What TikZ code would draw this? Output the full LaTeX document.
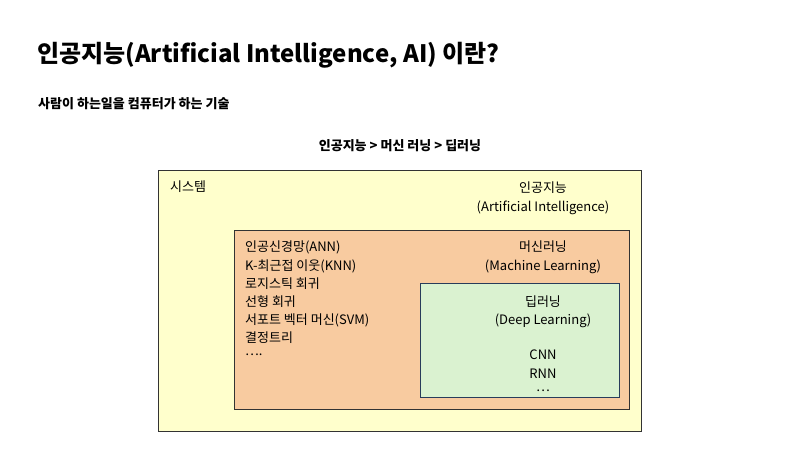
\documentclass[tikz,border=0pt]{standalone}
\usepackage{fontspec}
\setmainfont{Noto Sans CJK KR}
\begin{document}
\begin{tikzpicture}[x=1pt,y=-1pt,
  lbl/.style={inner sep=0pt,font=\fontsize{13}{15}\selectfont},
  lft/.style={lbl,anchor=west}]
\useasboundingbox (0,0) rectangle (800,450);
\fill[white] (0,0) rectangle (800,450);
\node[anchor=west,inner sep=0pt,font=\fontsize{24}{28}\bfseries\selectfont] (title) at (37,55) {인공지능(Artificial Intelligence, AI) 이란?};
\node[anchor=west,inner sep=0pt,font=\fontsize{13}{15}\bfseries\selectfont] (sub) at (38,104) {사람이 하는일을 컴퓨터가 하는 기술};
\node[inner sep=0pt,font=\fontsize{13}{15}\bfseries\selectfont] (hier) at (400,146) {인공지능 > 머신 러닝 > 딥러닝};
\draw[fill={rgb,255:red,255;green,255;blue,204},draw=black!80,thick] (158,170) rectangle (641,431);
\draw[fill={rgb,255:red,248;green,203;blue,160},draw=black!80,thick] (234,230) rectangle (629,409);
\draw[fill={rgb,255:red,218;green,242;blue,208},draw={rgb,255:red,40;green,60;blue,90},thick] (420,283) rectangle (619,397);
\node[lft] (sys) at (170,187) {시스템};
\node[lbl] (ai1) at (543,188) {인공지능};
\node[lbl] (ai2) at (543,208) {(Artificial Intelligence)};
\node[lbl] (ml1) at (543,247) {머신러닝};
\node[lbl] (ml2) at (543,267) {(Machine Learning)};
\node[lft] (l1) at (245,247) {인공신경망(ANN)};
\node[lft] (l2) at (245,266) {K-최근접 이웃(KNN)};
\node[lft] (l3) at (245,284) {로지스틱 회귀};
\node[lft] (l4) at (245,302) {선형 회귀};
\node[lft] (l5) at (245,320) {서포트 벡터 머신(SVM)};
\node[lft] (l6) at (245,338) {결정트리};
\node[lft] (l7) at (245,355) {….};
\node[lbl] (dl1) at (543,302) {딥러닝};
\node[lbl] (dl2) at (543,321) {(Deep Learning)};
\node[lbl] (cnn) at (543,355) {CNN};
\node[lbl] (rnn) at (543,374) {RNN};
\node[lbl] (dots) at (543,391) {…};
\end{tikzpicture}
\end{document}
